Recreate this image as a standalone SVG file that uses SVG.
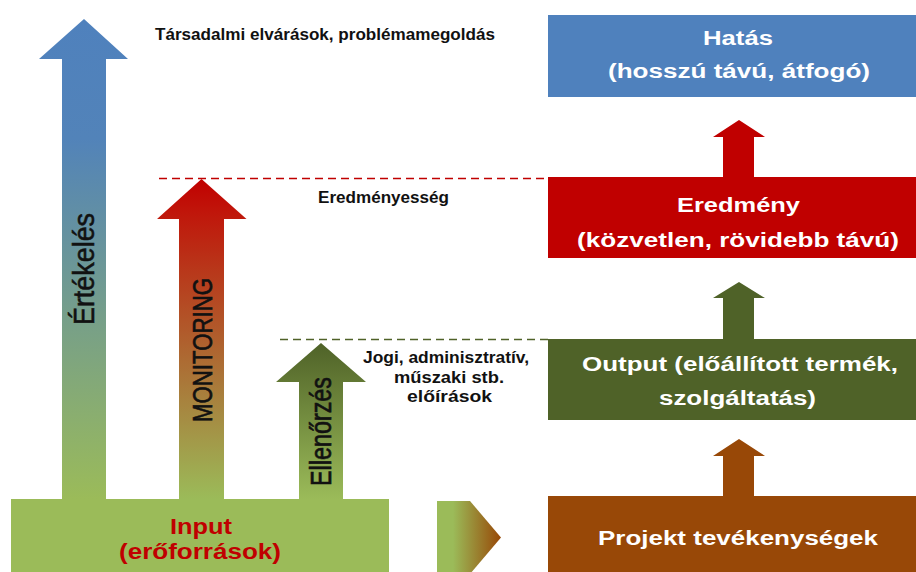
<svg xmlns="http://www.w3.org/2000/svg" width="916" height="572" viewBox="0 0 916 572">
  <style>
    text { font-family: "Liberation Sans", Arial, sans-serif; }
    .b { font-weight: bold; }
    .blk { fill: #111111; }
    .vert { fill: #111111; stroke: #111111; stroke-width: 0.5; }
    .wht { fill: #FFFFFF; font-weight: bold; }
    .red { fill: #C00000; font-weight: bold; }
    .dash { fill: none; stroke-width: 1.5; stroke-dasharray: 8 5; }
  </style>
  <defs>
    <linearGradient id="gBlue" x1="0" y1="19" x2="0" y2="499" gradientUnits="userSpaceOnUse">
      <stop offset="0" stop-color="#4F81BD"/>
      <stop offset="0.25" stop-color="#5283B9"/>
      <stop offset="1" stop-color="#9BBB59"/>
    </linearGradient>
    <linearGradient id="gRed" x1="0" y1="179" x2="0" y2="499" gradientUnits="userSpaceOnUse">
      <stop offset="0" stop-color="#C00000"/>
      <stop offset="0.1" stop-color="#C0150A"/>
      <stop offset="1" stop-color="#9BBB59"/>
    </linearGradient>
    <linearGradient id="gOlive" x1="0" y1="343" x2="0" y2="499" gradientUnits="userSpaceOnUse">
      <stop offset="0" stop-color="#4F6228"/>
      <stop offset="1" stop-color="#9BBB59"/>
    </linearGradient>
    <linearGradient id="gChev" x1="437" y1="0" x2="501" y2="0" gradientUnits="userSpaceOnUse">
      <stop offset="0" stop-color="#9BBB59"/>
      <stop offset="0.25" stop-color="#9BBB59"/>
      <stop offset="1" stop-color="#984807"/>
    </linearGradient>
  </defs>

  <g id="connectors">
    <line class="dash" x1="159" y1="178.5" x2="548" y2="178.5" stroke="#C00000"/>
    <line class="dash" x1="280" y1="339.5" x2="548" y2="339.5" stroke="#4F6228"/>
    <polygon id="arrow-eredmeny-hatas" points="739,120 765,137 754,137 754,177 723,177 723,137 713,137" fill="#C00000"/>
    <polygon id="arrow-output-eredmeny" points="739,282 765,298 754,298 754,339 723,339 723,298 713,298" fill="#4F6228"/>
    <polygon id="arrow-projekt-output" points="739,439 765,456 754,456 754,496 723,496 723,456 713,456" fill="#984807"/>
    <polygon id="arrow-input-projekt" points="437,501 470,501 501,537.5 470,574 437,574" fill="url(#gChev)"/>
  </g>

  <g id="ertekeles">
    <polygon points="84,19 128,59 106,59 106,500 62,500 62,59 39,59" fill="url(#gBlue)"/>
    <text class="vert" transform="translate(94,269) scale(1.1,1) rotate(-90)" x="0" y="0" text-anchor="middle" font-size="26" textLength="112" lengthAdjust="spacingAndGlyphs">Értékelés</text>
  </g>

  <g id="monitoring">
    <polygon points="201.5,179 246.5,219 224,219 224,500 179,500 179,219 157,219" fill="url(#gRed)"/>
    <text class="vert" transform="translate(211.5,350) scale(1.25,1) rotate(-90)" x="0" y="0" text-anchor="middle" font-size="22" textLength="144" lengthAdjust="spacingAndGlyphs">MONITORING</text>
  </g>

  <g id="ellenorzes">
    <polygon points="321,343 366,382 343,382 343,500 299,500 299,382 276,382" fill="url(#gOlive)"/>
    <text class="vert" transform="translate(331,431.5) scale(1.3,1) rotate(-90)" x="0" y="0" text-anchor="middle" font-size="23" textLength="109" lengthAdjust="spacingAndGlyphs">Ellenőrzés</text>
  </g>

  <g id="input">
    <rect x="11" y="499" width="378" height="75" fill="#9BBB59"/>
    <text class="red" x="170" y="534" font-size="22" textLength="62" lengthAdjust="spacingAndGlyphs">Input</text>
    <text class="red" x="119" y="559" font-size="22" textLength="162" lengthAdjust="spacingAndGlyphs">(erőforrások)</text>
  </g>

  <g id="labels">
    <text class="blk b" x="155" y="40" font-size="17" textLength="340" lengthAdjust="spacingAndGlyphs">Társadalmi elvárások, problémamegoldás</text>
    <text class="blk b" x="318" y="203" font-size="17" textLength="131" lengthAdjust="spacingAndGlyphs">Eredményesség</text>
    <text class="blk b" x="363" y="363" font-size="17" textLength="166" lengthAdjust="spacingAndGlyphs">Jogi, adminisztratív,</text>
    <text class="blk b" x="394" y="382.5" font-size="17" textLength="110" lengthAdjust="spacingAndGlyphs">műszaki stb.</text>
    <text class="blk b" x="407" y="401.5" font-size="17" textLength="85" lengthAdjust="spacingAndGlyphs">előírások</text>
  </g>

  <g id="hatas">
    <rect x="548" y="15" width="368" height="82" fill="#4F81BD"/>
    <text class="wht" x="703" y="45" font-size="20" textLength="70" lengthAdjust="spacingAndGlyphs">Hatás</text>
    <text class="wht" x="608" y="78" font-size="20" textLength="262" lengthAdjust="spacingAndGlyphs">(hosszú távú, átfogó)</text>
  </g>

  <g id="eredmeny">
    <rect x="548" y="177" width="368" height="81" fill="#C00000"/>
    <text class="wht" x="677" y="212" font-size="20" textLength="123" lengthAdjust="spacingAndGlyphs">Eredmény</text>
    <text class="wht" x="577" y="247" font-size="20" textLength="322" lengthAdjust="spacingAndGlyphs">(közvetlen, rövidebb távú)</text>
  </g>

  <g id="output">
    <rect x="548" y="339" width="368" height="81" fill="#4F6228"/>
    <text class="wht" x="582" y="371" font-size="20" textLength="316" lengthAdjust="spacingAndGlyphs">Output (előállított termék,</text>
    <text class="wht" x="659" y="405" font-size="20" textLength="157" lengthAdjust="spacingAndGlyphs">szolgáltatás)</text>
  </g>

  <g id="projekt">
    <rect x="548" y="496" width="368" height="78" fill="#984807"/>
    <text class="wht" x="598" y="545" font-size="20" textLength="280" lengthAdjust="spacingAndGlyphs">Projekt tevékenységek</text>
  </g>
</svg>
